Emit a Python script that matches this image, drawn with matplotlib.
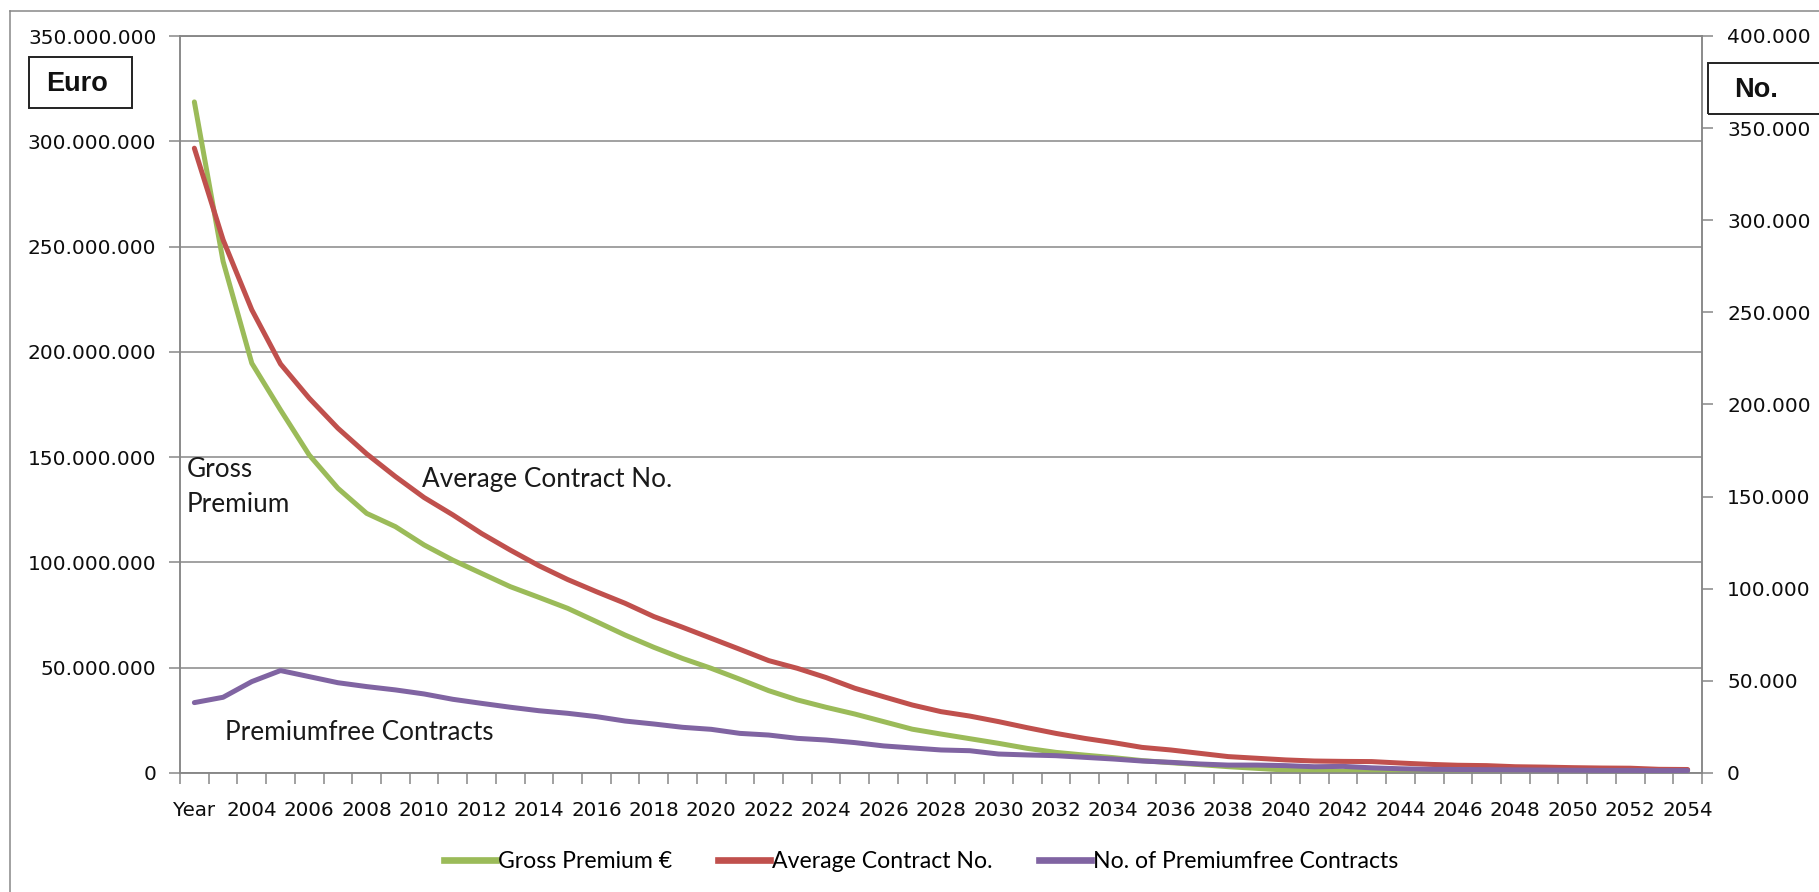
import matplotlib
matplotlib.use("Agg")
import matplotlib.pyplot as plt
from matplotlib.patches import Rectangle
from matplotlib.lines import Line2D
from matplotlib.ticker import FuncFormatter, MultipleLocator, FixedLocator

W, H = 1819, 892

# categories: first slot is the header cell "Year", then 2003..2054
years = ["Year"] + [str(y) for y in range(2003, 2055)]

gross_premium_m = [
    318.7, 243.0, 194.6, 172.4, 151.0, 135.2, 123.3, 117.0, 108.3, 101.1,
    94.8, 88.5, 83.4, 78.2, 71.9, 65.5, 59.7, 54.4, 49.7, 44.5,
    39.1, 34.7, 31.2, 28.0, 24.4, 20.8, 18.5, 16.3, 14.1, 11.7,
    9.8, 8.5, 7.3, 5.9, 4.9, 4.0, 3.0, 2.2, 1.4, 1.1,
    0.8, 0.6, 0.45, 0.35, 0.3, 0.25, 0.2, 0.18, 0.15, 0.12,
    0.1, 0.08, 0.06,
]
avg_contracts_k = [
    339.1, 289.4, 251.4, 222.0, 203.4, 187.1, 173.2, 160.9, 149.5, 140.1,
    130.0, 121.0, 112.5, 105.0, 98.4, 92.1, 84.9, 79.1, 73.1, 67.1,
    61.0, 56.8, 51.8, 46.0, 41.4, 36.9, 33.3, 30.9, 27.9, 24.6,
    21.5, 18.8, 16.5, 13.9, 12.5, 10.7, 8.9, 8.0, 7.1, 6.5,
    6.3, 6.2, 5.4, 4.7, 4.2, 4.0, 3.4, 3.2, 2.9, 2.7,
    2.6, 2.0, 1.9,
]
premiumfree_k = [
    38.2, 41.1, 49.6, 55.6, 52.3, 49.0, 46.9, 45.1, 42.9, 40.0,
    37.8, 35.7, 33.8, 32.4, 30.6, 28.2, 26.6, 24.8, 23.7, 21.5,
    20.6, 18.8, 17.9, 16.5, 14.7, 13.6, 12.5, 12.1, 10.3, 9.8,
    9.4, 8.5, 7.6, 6.5, 5.8, 4.9, 4.3, 4.3, 4.0, 3.4,
    3.6, 2.8, 2.3, 2.0, 1.9, 1.8, 1.7, 1.6, 1.5, 1.4,
    1.4, 1.3, 1.3,
]

GREEN, RED, PURPLE = "#9BBB59", "#C0504D", "#8064A2"
GRID = "#878787"
TICK_FONT = "DejaVu Sans"
TEXT_FONT = ["Lato", "DejaVu Sans"]


def fx(px):
    return px / W


def fy(py):
    return 1 - py / H


def dots(v, _pos):
    return f"{int(round(v)):,}".replace(",", ".")


fig = plt.figure(figsize=(W / 100, H / 100), dpi=100)
ax = fig.add_axes([fx(180), fy(773), fx(1702) - fx(180), fy(36) - fy(773)])
ax2 = ax.twinx()

x = list(range(len(years)))
LW = 3.6
ax.plot(x, [v * 1e6 for v in gross_premium_m], color=GREEN, lw=LW,
        solid_capstyle="round", zorder=3)
ax2.plot(x, [v * 1e3 for v in avg_contracts_k], color=RED, lw=LW,
         solid_capstyle="round", zorder=3)
ax2.plot(x, [v * 1e3 for v in premiumfree_k], color=PURPLE, lw=LW,
         solid_capstyle="round", zorder=4)

ax.set_xlim(-0.5, len(years) - 0.5)
ax.set_ylim(0, 350e6)
ax2.set_ylim(0, 400e3)
ax.yaxis.set_major_locator(MultipleLocator(50e6))
ax2.yaxis.set_major_locator(MultipleLocator(50e3))
ax.yaxis.set_major_formatter(FuncFormatter(dots))
ax2.yaxis.set_major_formatter(FuncFormatter(dots))
ax.grid(axis="y", color=GRID, lw=1.1)
ax.set_axisbelow(True)

ax.set_xticks(x[::2])
ax.set_xticklabels(years[::2])
ax.xaxis.set_minor_locator(FixedLocator([i - 0.5 for i in range(len(years) + 1)]))
ax.tick_params(axis="x", which="major", length=0, pad=20,
               labelsize=14.3, labelcolor="#0d0d0d")
ax.tick_params(axis="x", which="minor", length=8, width=1.1, color=GRID)
ax.tick_params(axis="y", length=8, width=1.1, color=GRID, pad=9,
               labelsize=14.5, labelcolor="#0d0d0d")
ax2.tick_params(axis="y", length=8, width=1.1, color=GRID, pad=10,
                labelsize=14.5, labelcolor="#0d0d0d")
for lab in ax.get_xticklabels() + ax.get_yticklabels() + ax2.get_yticklabels():
    lab.set_family(TICK_FONT)

for a in (ax, ax2):
    for s in a.spines.values():
        s.set_color(GRID)
        s.set_linewidth(1.1)

# labels written next to the curves
lab_kw = dict(transform=fig.transFigure, fontsize=18.8, family=TEXT_FONT,
              color="#1a1a1a", va="baseline", ha="left")
fig.text(fx(187), fy(477), "Gross", **lab_kw)
fig.text(fx(187), fy(512), "Premium", **lab_kw)
fig.text(fx(422), fy(487), "Average Contract No.", **lab_kw)
fig.text(fx(225), fy(740), "Premiumfree Contracts", **lab_kw)

# unit boxes
for (x0, y0, x1, y1), txt, (tx, ty) in [
    ((29, 57, 132, 108), "Euro", (77, 84)),
    ((1708, 63, 1840, 114), "No.", (1756, 90)),
]:
    fig.add_artist(Rectangle((fx(x0), fy(y1)), fx(x1) - fx(x0), fy(y0) - fy(y1),
                             transform=fig.transFigure, fill=False,
                             edgecolor="#222222", lw=1.4))
    fig.text(fx(tx), fy(ty), txt, ha="center", va="center", fontsize=19.5,
             weight="bold", family="Liberation Sans", color="#111111")

# chart area border (left and top edges visible)
fig.add_artist(Line2D([fx(10), fx(10)], [fy(11), 0], transform=fig.transFigure,
                      color=GRID, lw=1.1))
fig.add_artist(Line2D([fx(10), 1], [fy(11), fy(11)], transform=fig.transFigure,
                      color=GRID, lw=1.1))

handles = [Line2D([], [], color=c, lw=4.8) for c in (GREEN, RED, PURPLE)]
leg = fig.legend(handles, ["Gross Premium €", "Average Contract No.",
                           "No. of Premiumfree Contracts"],
                 loc="center", bbox_to_anchor=(fx(921), fy(862)), ncol=3,
                 frameon=False, handlelength=2.25, handletextpad=0.1,
                 columnspacing=2.0, prop={"family": TEXT_FONT, "size": 16.6})

fig.savefig("out.png", dpi=100)
